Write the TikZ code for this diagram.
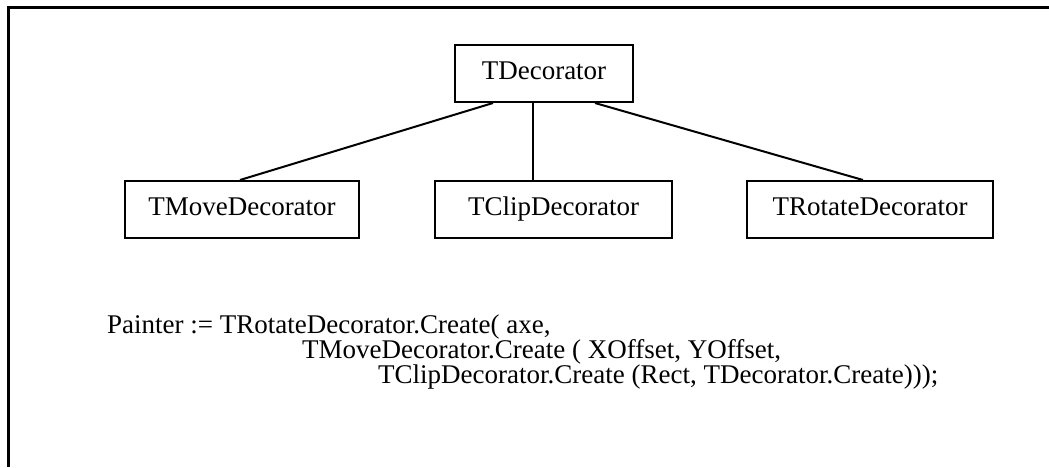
\documentclass[tikz,border=0pt]{standalone}
\usepackage{fontspec}
\setmainfont{Liberation Serif}
\begin{document}
\begin{tikzpicture}[x=1pt,y=-1pt,
  cls/.style={draw,line width=2pt,minimum height=57pt,inner sep=0pt,text height=18pt,text depth=6pt,font=\fontsize{27}{30}\selectfont},
  conn/.style={line width=2pt},
  code/.style={anchor=base west,inner sep=0pt,font=\fontsize{27}{30}\selectfont}]
\useasboundingbox (0,0) rectangle (1049,467);
\fill[white] (0,0) rectangle (1049,467);
% frame (top and left edges)
\draw[line width=3pt] (1049,7) -- (8,7) -- (8,467);
% class boxes
\node[cls,minimum width=178pt] (dec) at (544,73.5) {TDecorator};
\node[cls,minimum width=234pt] (move) at (242,209.5) {TMoveDecorator};
\node[cls,minimum width=237pt] (clip) at (553.5,209.5) {TClipDecorator};
\node[cls,minimum width=246pt] (rot) at (870,209.5) {TRotateDecorator};
% connectors
\draw[conn] ([xshift=-51pt]dec.south) -- ([xshift=-2pt]move.north);
\draw[conn] ([xshift=-11pt]dec.south) -- ([xshift=-20.5pt]clip.north);
\draw[conn] ([xshift=51pt]dec.south) -- ([xshift=-7pt]rot.north);
% code
\node[code] (l1) at (107,333) {Painter := TRotateDecorator.Create( axe,};
\node[code] (l2) at (302,358) {TMoveDecorator.Create ( XOffset, YOffset,};
\node[code] (l3) at (378,383) {TClipDecorator.Create (Rect, TDecorator.Create)));};
\end{tikzpicture}
\end{document}
